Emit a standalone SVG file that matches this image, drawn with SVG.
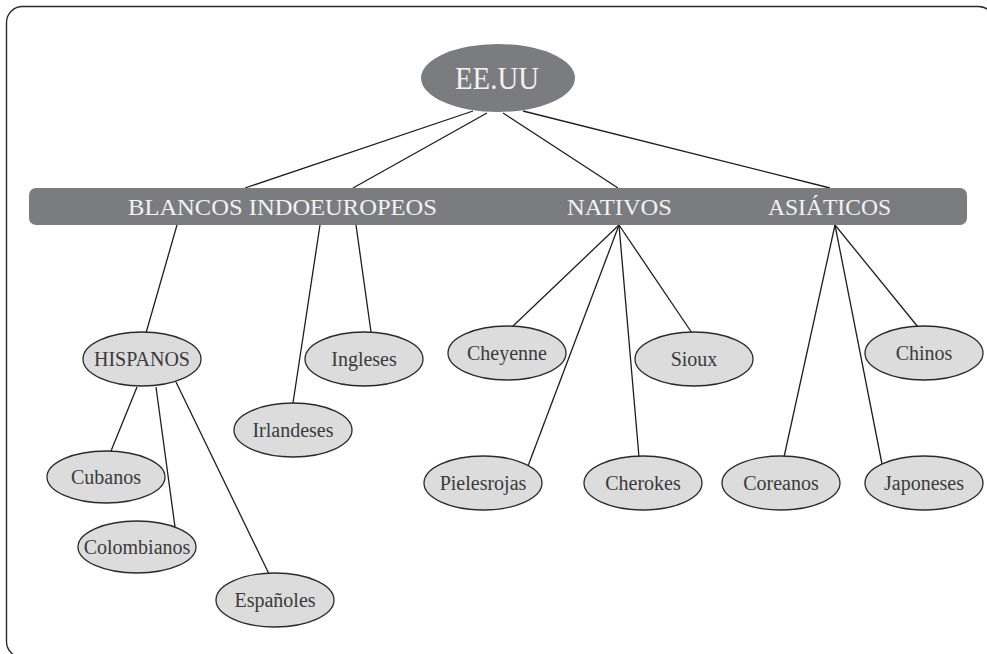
<svg xmlns="http://www.w3.org/2000/svg" width="987" height="654" viewBox="0 0 987 654">
<style>
.frame{fill:#ffffff;stroke:#2a2a2a;stroke-width:1.4}
.band{fill:#7b7c80}
.root{fill:#7b7c80}
.node{fill:#dcdcdd;stroke:#2a2a2a;stroke-width:1.3}
.edge{stroke:#1e1e1e;stroke-width:1.3;fill:none}
.lbl{font-family:"Liberation Serif","DejaVu Serif",serif;font-size:20px;fill:#3a3a3a;text-anchor:middle}
.hdr{font-family:"Liberation Serif","DejaVu Serif",serif;font-size:24px;fill:#f2f2f2;text-anchor:middle}
.rootlbl{font-family:"Liberation Serif","DejaVu Serif",serif;font-size:31px;fill:#f2f2f2;text-anchor:middle}
</style>
<rect x="0" y="0" width="987" height="654" fill="#ffffff"/>
<rect class="frame" x="6.5" y="6.5" width="988" height="651" rx="16"/>
<g id="connectors">
<line class="edge" x1="473" y1="111" x2="245" y2="188"/>
<line class="edge" x1="487" y1="113" x2="353" y2="188"/>
<line class="edge" x1="503" y1="113" x2="618" y2="188"/>
<line class="edge" x1="523" y1="111" x2="830" y2="188"/>
<line class="edge" x1="177" y1="225" x2="146" y2="333"/>
<line class="edge" x1="320" y1="225" x2="293" y2="403"/>
<line class="edge" x1="356" y1="225" x2="371" y2="332"/>
<line class="edge" x1="137" y1="387" x2="111" y2="451"/>
<line class="edge" x1="156" y1="387" x2="175" y2="527"/>
<line class="edge" x1="176" y1="382" x2="269" y2="574"/>
<line class="edge" x1="619" y1="225" x2="512" y2="327"/>
<line class="edge" x1="619" y1="225" x2="528" y2="466"/>
<line class="edge" x1="619" y1="225" x2="639" y2="457"/>
<line class="edge" x1="619" y1="225" x2="692" y2="333"/>
<line class="edge" x1="835" y1="225" x2="784" y2="457"/>
<line class="edge" x1="835" y1="225" x2="882" y2="464"/>
<line class="edge" x1="835" y1="225" x2="918" y2="327"/>
</g>
<g id="band">
<rect class="band" x="29" y="188" width="938" height="37" rx="7"/>
</g>
<g id="root">
<ellipse class="root" cx="498" cy="78" rx="77" ry="34"/>
<text class="rootlbl" x="497" y="89" textLength="84" lengthAdjust="spacingAndGlyphs">EE.UU</text>
</g>
<g id="blancos"><text class="hdr" x="282.5" y="215" textLength="309" lengthAdjust="spacingAndGlyphs">BLANCOS INDOEUROPEOS</text></g>
<g id="nativos"><text class="hdr" x="619.5" y="215" textLength="105" lengthAdjust="spacingAndGlyphs">NATIVOS</text></g>
<g id="asiaticos"><text class="hdr" x="829.5" y="215" textLength="123" lengthAdjust="spacingAndGlyphs">ASIÁTICOS</text></g>
<g id="hispanos"><ellipse class="node" cx="142" cy="359" rx="59" ry="27"/><text class="lbl" x="142" y="366">HISPANOS</text></g>
<g id="cubanos"><ellipse class="node" cx="106" cy="477" rx="59" ry="26"/><text class="lbl" x="106" y="484">Cubanos</text></g>
<g id="colombianos"><ellipse class="node" cx="137" cy="547" rx="59" ry="26"/><text class="lbl" x="137" y="554">Colombianos</text></g>
<g id="espanoles"><ellipse class="node" cx="275" cy="600" rx="59" ry="27"/><text class="lbl" x="275" y="607">Españoles</text></g>
<g id="irlandeses"><ellipse class="node" cx="293" cy="430" rx="59" ry="27"/><text class="lbl" x="293" y="437">Irlandeses</text></g>
<g id="ingleses"><ellipse class="node" cx="364" cy="359" rx="59" ry="27"/><text class="lbl" x="364" y="366">Ingleses</text></g>
<g id="cheyenne"><ellipse class="node" cx="507" cy="353" rx="59" ry="27"/><text class="lbl" x="507" y="360">Cheyenne</text></g>
<g id="sioux"><ellipse class="node" cx="694" cy="359" rx="59" ry="27"/><text class="lbl" x="694" y="366">Sioux</text></g>
<g id="pielesrojas"><ellipse class="node" cx="483" cy="483" rx="59" ry="27"/><text class="lbl" x="483" y="490">Pielesrojas</text></g>
<g id="cherokes"><ellipse class="node" cx="643" cy="483" rx="59" ry="27"/><text class="lbl" x="643" y="490">Cherokes</text></g>
<g id="coreanos"><ellipse class="node" cx="781" cy="483" rx="59" ry="27"/><text class="lbl" x="781" y="490">Coreanos</text></g>
<g id="japoneses"><ellipse class="node" cx="924" cy="483" rx="59" ry="27"/><text class="lbl" x="924" y="490">Japoneses</text></g>
<g id="chinos"><ellipse class="node" cx="924" cy="353" rx="59" ry="27"/><text class="lbl" x="924" y="360">Chinos</text></g>
</svg>
